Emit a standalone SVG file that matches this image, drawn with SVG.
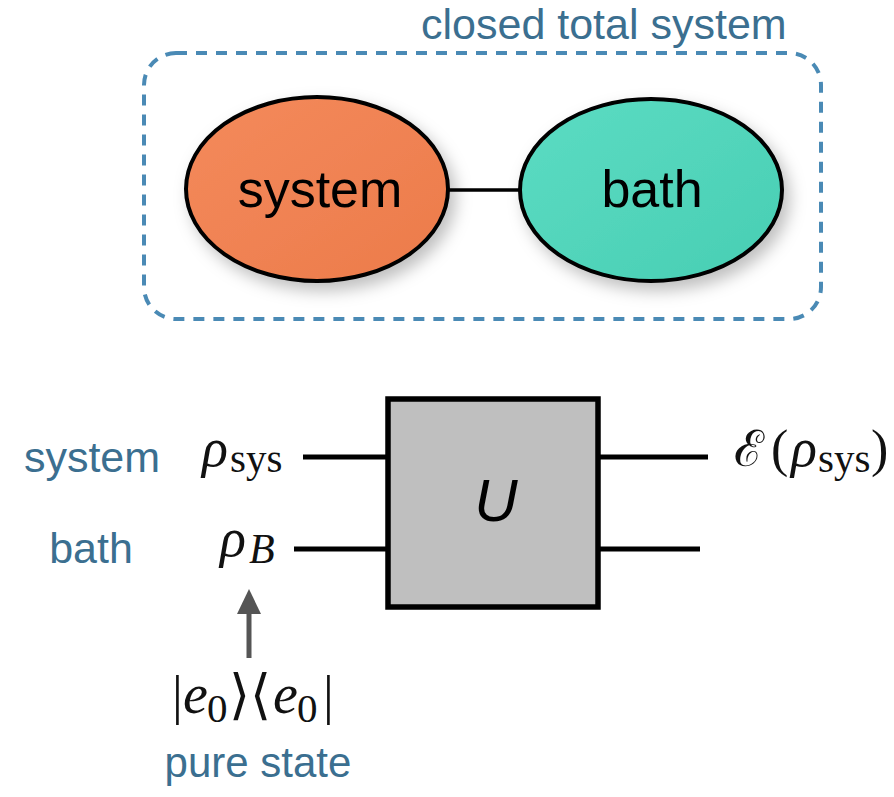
<svg xmlns="http://www.w3.org/2000/svg" width="894" height="797" viewBox="0 0 894 797">
<defs>
<style>
.blue{font-family:"Liberation Sans","Helvetica",Arial,sans-serif;fill:#3b6f90;}
.node{font-family:"Liberation Sans","Helvetica",Arial,sans-serif;fill:#000;font-size:52px;text-anchor:middle;}
.m{font-family:"Liberation Serif","DejaVu Serif",serif;fill:#111;}
.mi{font-style:italic;}
.wire{stroke:#000;stroke-width:5;fill:none;}
</style>
<linearGradient id="gOrange" x1="0" y1="0" x2="1" y2="1">
<stop offset="0" stop-color="#f48a5c"/><stop offset="1" stop-color="#ec7b4a"/>
</linearGradient>
<linearGradient id="gTeal" x1="0" y1="0" x2="1" y2="1">
<stop offset="0" stop-color="#5cdcc3"/><stop offset="1" stop-color="#48ceb3"/>
</linearGradient>
<filter id="shadow" x="-20%" y="-20%" width="150%" height="150%">
<feDropShadow dx="6" dy="8" stdDeviation="8" flood-color="#000" flood-opacity="0.25"/>
</filter>
</defs>
<rect width="894" height="797" fill="#fff"/>

<g id="total-system">
<rect x="144" y="53" width="677" height="266" rx="32" ry="32" fill="none" stroke="#4a8ab5" stroke-width="4" stroke-dasharray="11 9"/>
<text class="blue" x="421" y="39" font-size="43">closed total system</text>
</g>

<g id="connectors">
<line x1="446" y1="190" x2="522" y2="190" stroke="#000" stroke-width="3.5"/>
<line class="wire" x1="303" y1="457" x2="389" y2="457"/>
<line class="wire" x1="597" y1="457" x2="708" y2="457"/>
<line class="wire" x1="294" y1="549" x2="389" y2="549"/>
<line class="wire" x1="597" y1="549" x2="700" y2="549"/>
<line x1="249" y1="658" x2="249" y2="611" stroke="#555" stroke-width="5"/>
<polygon points="249,589 237,614 261,614" fill="#555"/>
</g>

<g id="system-node">
<ellipse cx="317" cy="189" rx="131" ry="92" fill="url(#gOrange)" stroke="#000" stroke-width="4" filter="url(#shadow)"/>
<text class="node" x="320" y="207">system</text>
</g>

<g id="bath-node">
<ellipse cx="651" cy="190" rx="131" ry="91" fill="url(#gTeal)" stroke="#000" stroke-width="4" filter="url(#shadow)"/>
<text class="node" x="652" y="207">bath</text>
</g>

<g id="gate-U">
<rect x="388" y="399" width="210" height="208" fill="#bfbfbf" stroke="#000" stroke-width="5.5"/>
<text x="496" y="521" font-family="Liberation Sans, Helvetica, Arial, sans-serif" font-style="italic" font-size="60" text-anchor="middle" fill="#000">U</text>
</g>

<g id="label-system">
<text class="blue" x="92" y="472" font-size="43" text-anchor="middle">system</text>
<text class="m" y="466"><tspan class="mi" x="202" font-size="54">ρ</tspan><tspan x="230" y="472" font-size="41">sys</tspan></text>
</g>

<g id="label-bath">
<text class="blue" x="91" y="563" font-size="43" text-anchor="middle">bath</text>
<text class="m" y="556"><tspan class="mi" x="220" font-size="54">ρ</tspan><tspan class="mi" x="249" y="563" font-size="42">B</tspan></text>
</g>

<g id="label-output">
<text class="m" y="466"><tspan x="734" font-size="50">ℰ</tspan><tspan x="771" font-size="52">(</tspan><tspan class="mi" x="791" font-size="54">ρ</tspan><tspan x="818" y="472" font-size="41">sys</tspan><tspan x="871" y="466" font-size="52">)</tspan></text>
</g>

<g id="label-pure-state">
<text class="m" y="713"><tspan x="172" font-size="54">|</tspan><tspan class="mi" x="183" font-size="56">e</tspan><tspan x="207" y="722" font-size="41">0</tspan><tspan x="229" y="713" font-size="54">⟩</tspan><tspan x="250" font-size="54">⟨</tspan><tspan class="mi" x="273" font-size="56">e</tspan><tspan x="297" y="722" font-size="41">0</tspan><tspan x="323" y="713" font-size="54">|</tspan></text>
<text class="blue" x="258" y="777" font-size="42" text-anchor="middle">pure state</text>
</g>
</svg>
